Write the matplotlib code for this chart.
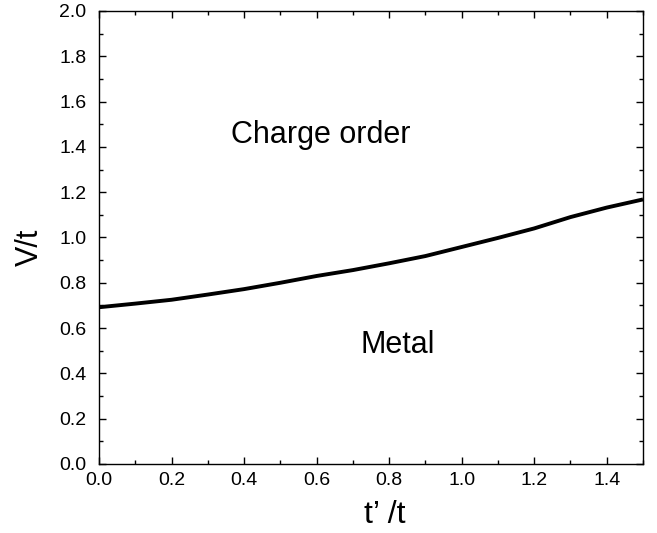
import matplotlib
matplotlib.use("Agg")
import matplotlib.pyplot as plt
from matplotlib.ticker import MultipleLocator

plt.rcParams['font.family'] = ['Liberation Sans', 'DejaVu Sans']

tp = [0.0, 0.1, 0.2, 0.3, 0.4, 0.5, 0.6, 0.7, 0.8, 0.9, 1.0, 1.1, 1.2, 1.3, 1.4, 1.5]
vc = [0.692, 0.708, 0.725, 0.748, 0.772, 0.800, 0.830, 0.856, 0.886, 0.918,
      0.958, 0.998, 1.040, 1.090, 1.132, 1.168]
xtick_vals = [0.0, 0.2, 0.4, 0.6, 0.8, 1.0, 1.2, 1.4]
ytick_vals = [0.0, 0.2, 0.4, 0.6, 0.8, 1.0, 1.2, 1.4, 1.6, 1.8, 2.0]

fig = plt.figure(figsize=(6.57, 5.33), dpi=100)
ax = fig.add_axes([0.1507, 0.1295, 0.828, 0.8499])
ax.plot(tp, vc, color='black', lw=2.8, solid_capstyle='butt', solid_joinstyle='round')
ax.set_xlim(0, 1.5)
ax.set_ylim(0, 2.0)
ax.set_xticks(xtick_vals)
ax.set_xticklabels([f"{v:.1f}" for v in xtick_vals])
ax.set_yticks(ytick_vals)
ax.set_yticklabels([f"{v:.1f}" for v in ytick_vals])
ax.xaxis.set_minor_locator(MultipleLocator(0.1))
ax.yaxis.set_minor_locator(MultipleLocator(0.1))
ax.tick_params(which='both', direction='in', top=True, right=True, width=1)
ax.tick_params(which='major', length=5, labelsize=14)
ax.tick_params(axis='x', which='major', pad=6)
ax.tick_params(axis='y', which='major', pad=9)
ax.tick_params(which='minor', length=3)
for s in ax.spines.values():
    s.set_linewidth(1.0)
ax.set_xlabel("t\u2019 /t", fontsize=23)
ax.xaxis.set_label_coords(0.526, -0.113)
ax.xaxis.label.set_va('center')
ax.set_ylabel("V/t", fontsize=22)
ax.yaxis.set_label_coords(-0.128, 0.479)
ax.yaxis.label.set_va('center')
ax.text(0.612, 1.453, "Charge order", fontsize=22, ha='center', va='center')
ax.text(0.824, 0.525, "Metal", fontsize=22, ha='center', va='center')
fig.savefig("out.png", dpi=100)
